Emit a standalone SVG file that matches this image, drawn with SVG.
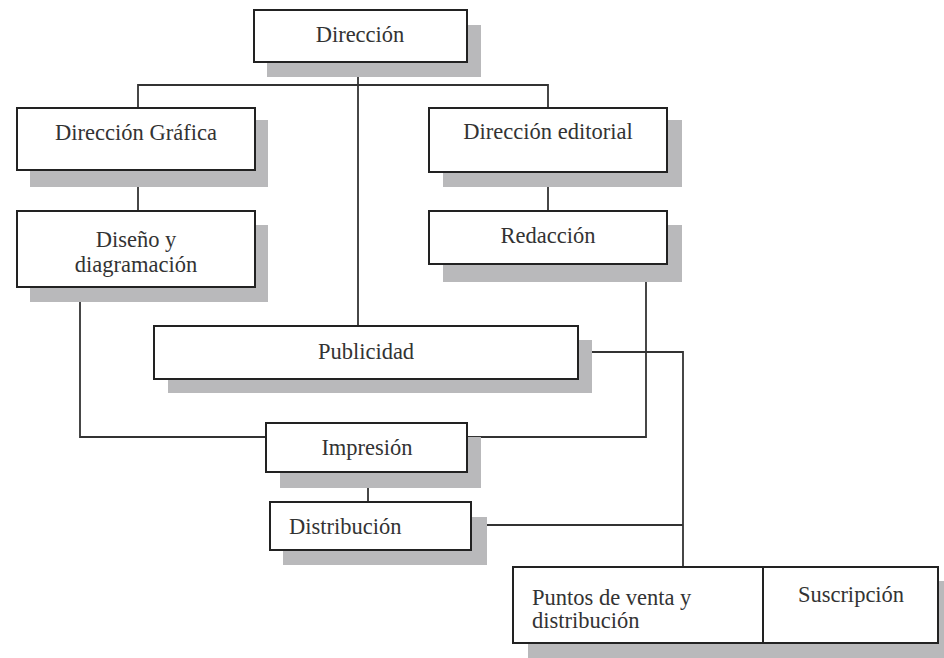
<svg xmlns="http://www.w3.org/2000/svg" width="944" height="658" viewBox="0 0 944 658">
  <style>
    .shadow { fill: #b9b9bb; }
    .box { fill: #ffffff; stroke: #222222; stroke-width: 2; }
    .link { fill: none; stroke: #333333; stroke-width: 1.8; }
    .label { font-family: "Liberation Serif", "DejaVu Serif", serif; font-size: 22.5px; fill: #333333; }
    .mid { text-anchor: middle; }
  </style>
  <rect width="944" height="658" fill="#ffffff"/>

  <!-- connectors -->
  <g id="connectors">
    <path class="link" d="M358,62 V326"/>
    <path class="link" d="M138,108 V85 H548 V108"/>
    <path class="link" d="M138,170 V211"/>
    <path class="link" d="M548,172 V211"/>
    <path class="link" d="M80,287 V437 H266"/>
    <path class="link" d="M646,264 V437 H467"/>
    <path class="link" d="M578,352 H683 V567"/>
    <path class="link" d="M368,472 V502"/>
    <path class="link" d="M471,525 H683"/>
  </g>

  <g id="direccion">
    <rect class="shadow" x="267" y="25" width="214" height="52"/>
    <rect class="box" x="254" y="10" width="213" height="52"/>
    <text class="label mid" x="360" y="42">Dirección</text>
  </g>

  <g id="direccion-grafica">
    <rect class="shadow" x="30" y="120" width="238" height="67"/>
    <rect class="box" x="17" y="108" width="238" height="62"/>
    <text class="label mid" x="136" y="140">Dirección Gráfica</text>
  </g>

  <g id="direccion-editorial">
    <rect class="shadow" x="443" y="120" width="239" height="67"/>
    <rect class="box" x="429" y="108" width="238" height="64"/>
    <text class="label mid" x="548" y="139">Dirección editorial</text>
  </g>

  <g id="diseno">
    <rect class="shadow" x="30" y="225" width="238" height="77"/>
    <rect class="box" x="17" y="211" width="238" height="76"/>
    <text class="label mid" x="136" y="247">Diseño y</text>
    <text class="label mid" x="136" y="272">diagramación</text>
  </g>

  <g id="redaccion">
    <rect class="shadow" x="443" y="225" width="239" height="57"/>
    <rect class="box" x="429" y="211" width="238" height="53"/>
    <text class="label mid" x="548" y="243">Redacción</text>
  </g>

  <g id="publicidad">
    <rect class="shadow" x="168" y="340" width="424" height="53"/>
    <rect class="box" x="154" y="326" width="424" height="53"/>
    <text class="label mid" x="366" y="359">Publicidad</text>
  </g>

  <g id="impresion">
    <rect class="shadow" x="280" y="437" width="201" height="51"/>
    <rect class="box" x="266" y="423" width="201" height="49"/>
    <text class="label mid" x="367" y="455">Impresión</text>
  </g>

  <g id="distribucion">
    <rect class="shadow" x="283" y="517" width="204" height="48"/>
    <rect class="box" x="270" y="502" width="201" height="48"/>
    <text class="label" x="289" y="534">Distribución</text>
  </g>

  <g id="puntos-suscripcion">
    <rect class="shadow" x="528" y="581" width="416" height="77"/>
    <rect class="box" x="513" y="567" width="425" height="76"/>
    <line x1="763" y1="567" x2="763" y2="643" stroke="#222222" stroke-width="2"/>
    <text class="label" x="532" y="605">Puntos de venta y</text>
    <text class="label" x="532" y="628">distribución</text>
    <text class="label mid" x="851" y="602">Suscripción</text>
  </g>
</svg>
